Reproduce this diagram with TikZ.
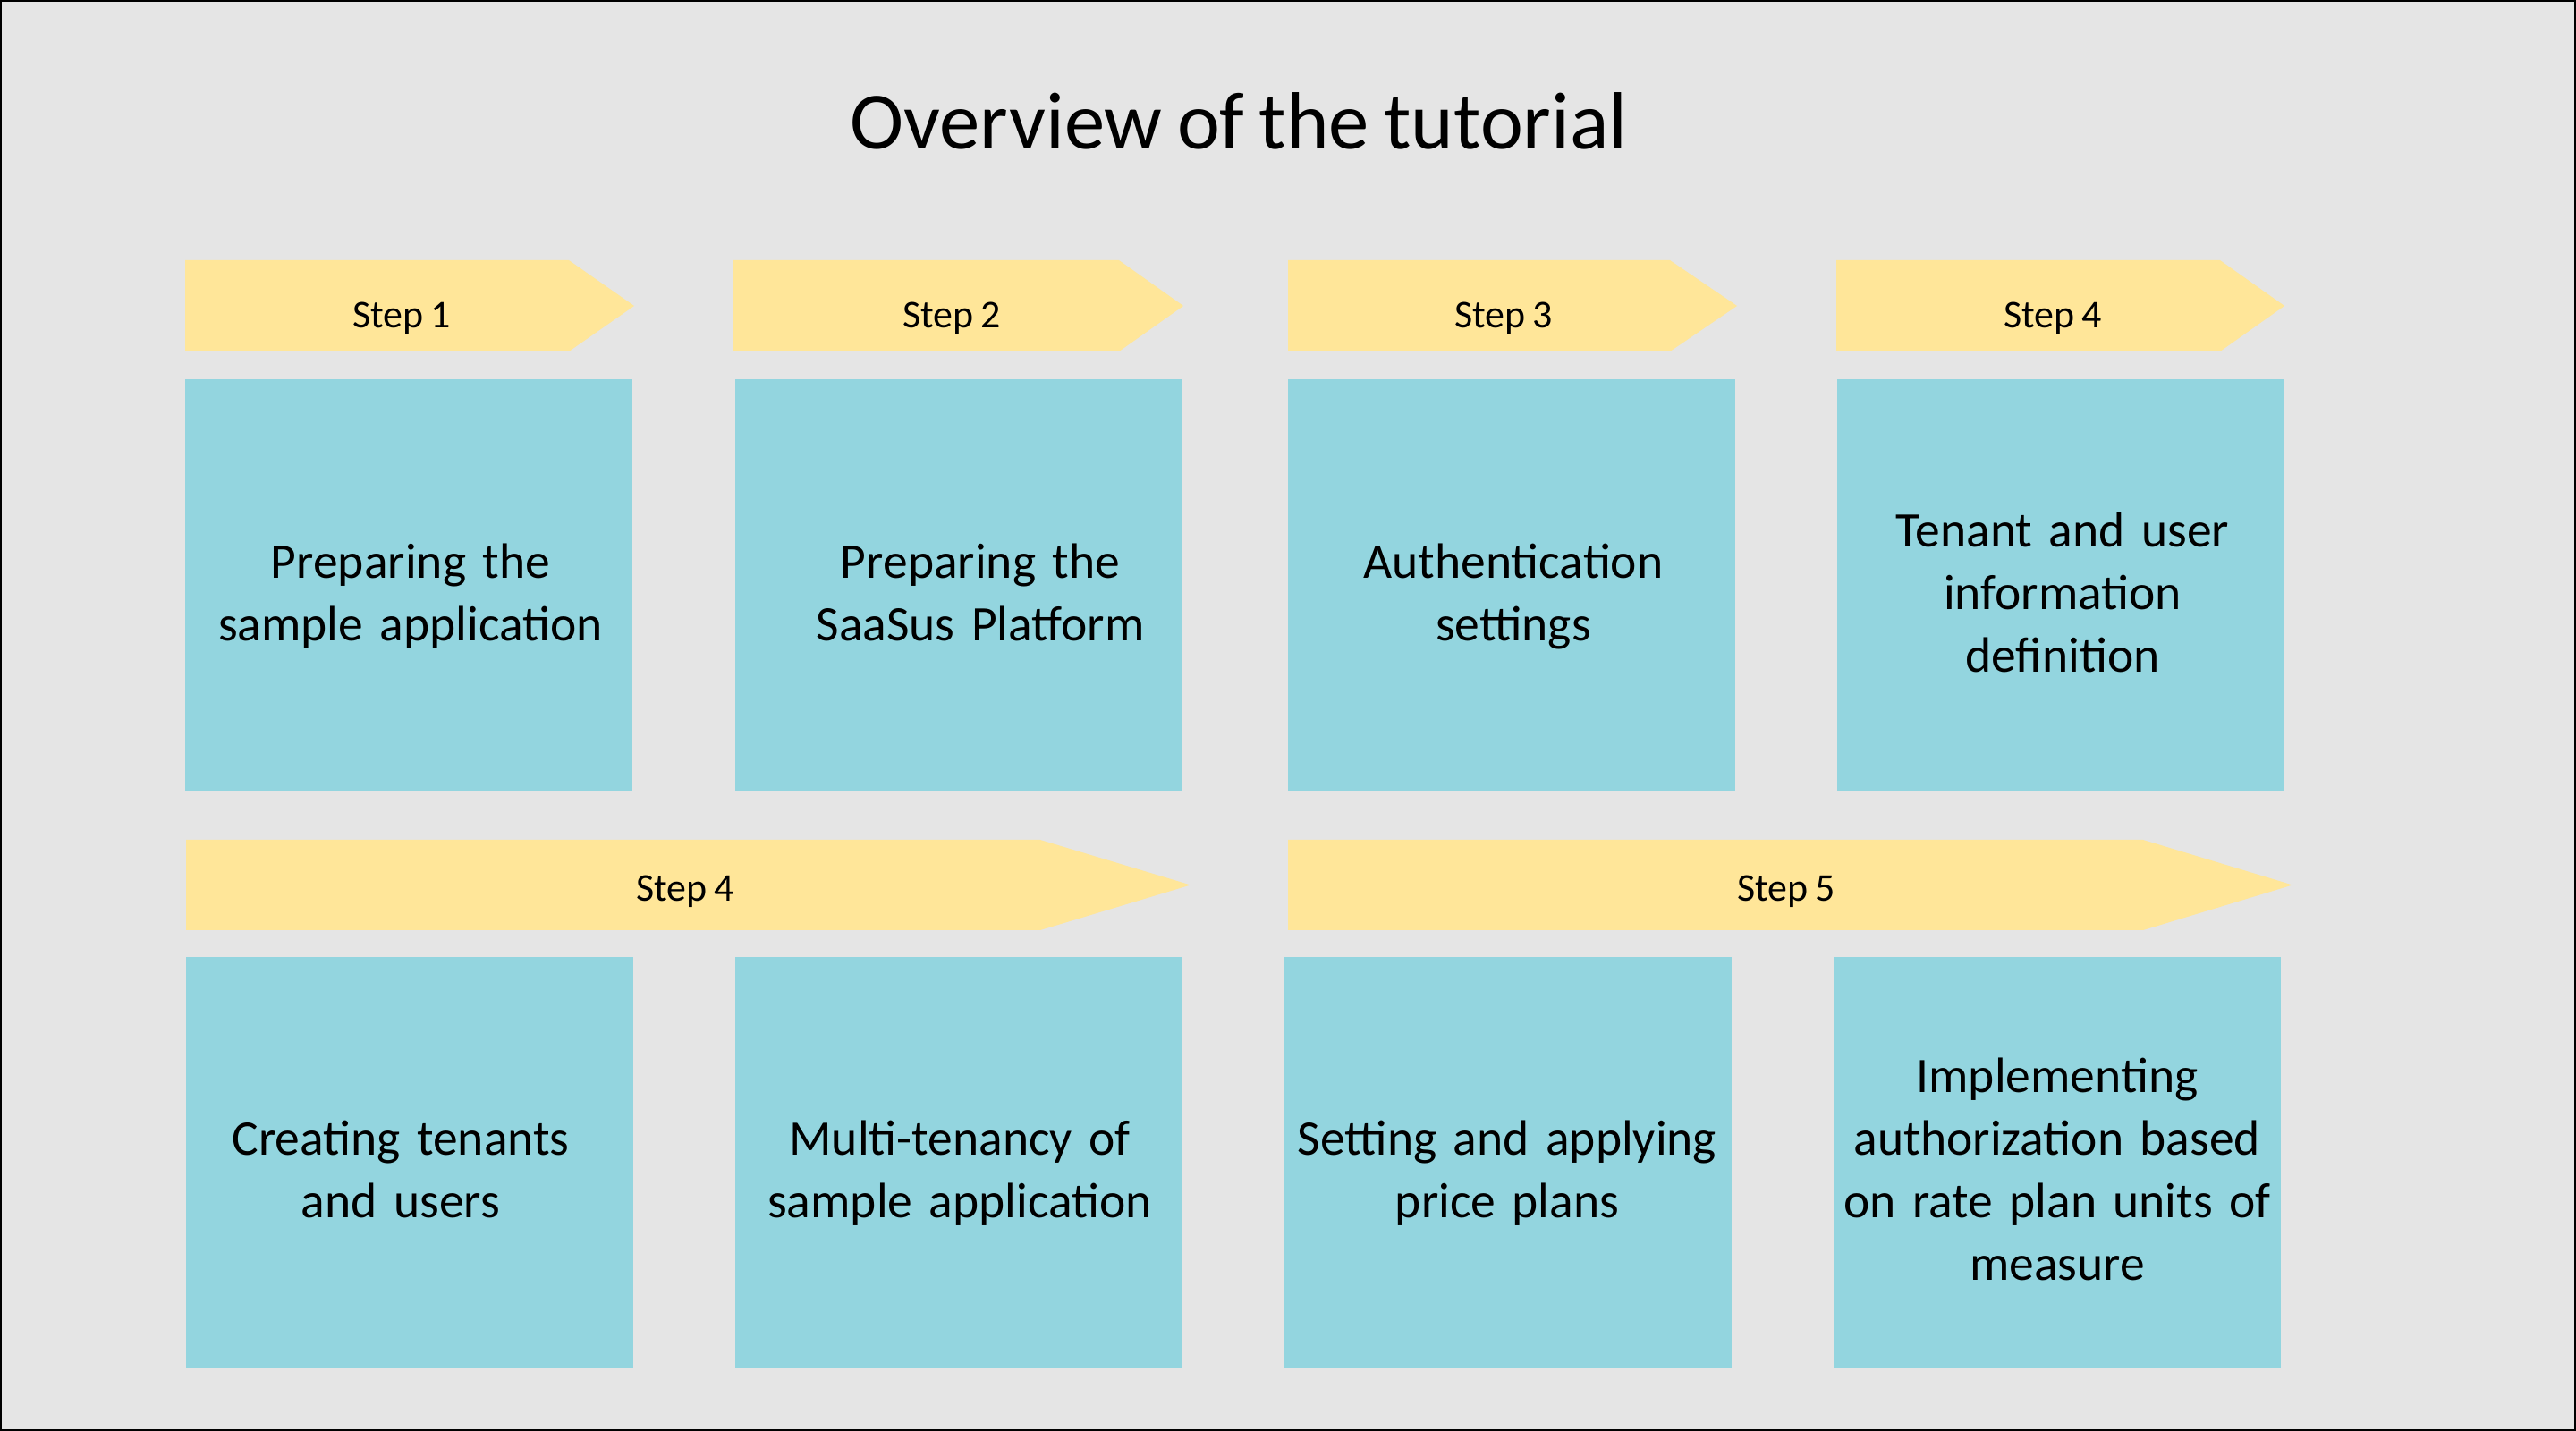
\documentclass[tikz,border=0pt]{standalone}
\usepackage{fontspec}
\setmainfont{Carlito}[WordSpace=0.8]
\definecolor{bggray}{HTML}{E5E5E5}
\definecolor{stepyellow}{HTML}{FFE699}
\definecolor{taskblue}{HTML}{93D5DF}
\begin{document}
\begin{tikzpicture}[x=1cm,y=-1cm,
    steplabel/.style={anchor=base,inner sep=0pt,font=\fontsize{12.5}{15}\selectfont},
    taskbox/.style={fill=taskblue,minimum width=5cm,minimum height=4.6cm,inner sep=0pt},
    tasktext/.style={anchor=base,inner sep=0pt,text width=4.9cm,align=center,font=\fontsize{15.8}{19.9}\selectfont}]
\useasboundingbox (0,0) rectangle (28.8,16);
\draw[fill=bggray,line width=0.6pt] (0.01,0.01) rectangle (28.79,15.99);
\node[anchor=base,inner sep=0pt,font=\fontsize{25.8}{30}\selectfont] (title) at (13.85,1.67) {Overview of the tutorial};
% step bars
\foreach \l/\e/\t in {2.07/6.36/7.09, 8.20/12.51/13.23, 14.40/18.67/19.42, 20.53/24.82/25.54}
  \fill[stepyellow] (\l,2.91) -- (\e,2.91) -- (\t,3.42) -- (\e,3.93) -- (\l,3.93) -- cycle;
\fill[stepyellow] (2.08,9.39) -- (11.63,9.39) -- (13.31,9.895) -- (11.63,10.40) -- (2.08,10.40) -- cycle;
\fill[stepyellow] (14.40,9.39) -- (23.96,9.39) -- (25.63,9.895) -- (23.96,10.40) -- (14.40,10.40) -- cycle;
\node[steplabel] (step1) at (4.49,3.67) {Step 1};
\node[steplabel] (step2) at (10.64,3.67) {Step 2};
\node[steplabel] (step3) at (16.81,3.67) {Step 3};
\node[steplabel] (step4) at (22.95,3.67) {Step 4};
\node[steplabel] (step4b) at (7.66,10.07) {Step 4};
\node[steplabel] (step5) at (19.97,10.07) {Step 5};
% top row
\node[taskbox] (prepapp) at (4.57,6.54) {};
\node[taskbox] (prepsaas) at (10.715,6.54) {};
\node[taskbox] (auth) at (16.90,6.54) {};
\node[taskbox] (tenantdef) at (23.04,6.54) {};
\node[tasktext] (prepapp text) at (4.59,6.47) {Preparing the\\sample application};
\node[tasktext] (prepsaas text) at (10.96,6.47) {Preparing the\\SaaSus Platform};
\node[tasktext] (auth text) at (16.92,6.47) {Authentication\\settings};
\node[tasktext] (tenantdef text) at (23.06,6.12) {Tenant and user\\information\\definition};
% bottom row
\node[taskbox] (createtenant) at (4.58,13.00) {};
\node[taskbox] (multitenancy) at (10.72,13.00) {};
\node[taskbox] (priceplans) at (16.86,13.00) {};
\node[taskbox] (authz) at (23.00,13.00) {};
\node[tasktext] (createtenant text) at (4.48,12.915) {Creating tenants\\and users};
\node[tasktext] (multitenancy text) at (10.73,12.915) {Multi-tenancy of\\sample application};
\node[tasktext] (priceplans text) at (16.85,12.915) {Setting and applying\\price plans};
\node[tasktext] (authz text) at (23.00,12.215) {Implementing\\authorization based\\on rate plan units of\\measure};
\end{tikzpicture}
\end{document}
